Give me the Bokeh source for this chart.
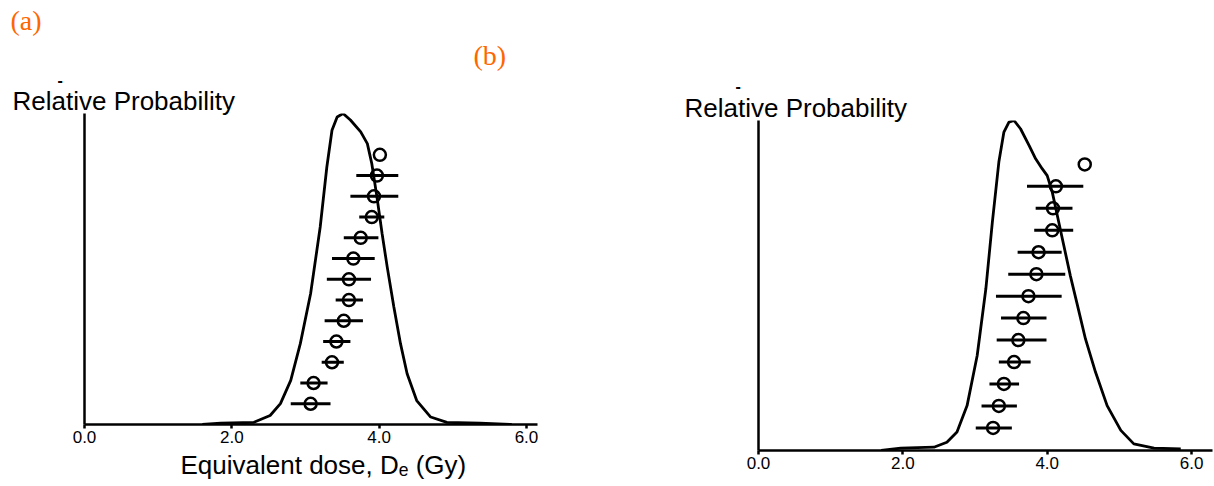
from bokeh.plotting import figure
from bokeh.models import Range1d, LinearAxis, FixedTicker, Title, ColumnDataSource, PrintfTickFormatter
from bokeh.layouts import row
from bokeh.embed import file_html
from bokeh.resources import INLINE

# ---------------- data ----------------
# Panel (a): kernel density curve (relative probability) vs equivalent dose (Gy)
dose_a = [1.60, 1.85, 2.30, 2.52, 2.66, 2.80, 2.93, 3.07, 3.20, 3.29, 3.36, 3.43, 3.51,
          3.61, 3.75, 3.84, 3.90, 3.97, 4.04, 4.11, 4.20, 4.29, 4.38, 4.51, 4.70, 4.92, 5.37, 5.80]
prob_a = [0.000, 0.004, 0.007, 0.029, 0.067, 0.142, 0.260, 0.421, 0.635, 0.828, 0.946, 0.989, 1.000,
          0.979, 0.941, 0.903, 0.839, 0.732, 0.614, 0.506, 0.378, 0.260, 0.163, 0.077, 0.024, 0.007, 0.004, 0.000]
# Panel (a): individual aliquots (top to bottom), De and error limits (Gy)
rank_a = [13, 12, 11, 10, 9, 8, 7, 6, 5, 4, 3, 2, 1]
de_a = [4.01, 3.97, 3.93, 3.90, 3.75, 3.65, 3.59, 3.59, 3.52, 3.42, 3.36, 3.11, 3.07]
lo_a = [4.01, 3.69, 3.61, 3.73, 3.52, 3.36, 3.29, 3.41, 3.26, 3.24, 3.22, 2.93, 2.80]
hi_a = [4.01, 4.26, 4.26, 4.07, 3.99, 3.94, 3.89, 3.78, 3.78, 3.61, 3.52, 3.30, 3.34]

# Panel (b)
dose_b = [1.70, 1.97, 2.43, 2.61, 2.75, 2.89, 3.03, 3.15, 3.24, 3.33, 3.40, 3.47, 3.54, 3.63,
          3.75, 3.84, 3.93, 4.00, 4.07, 4.14, 4.23, 4.32, 4.42, 4.53, 4.67, 4.83, 5.02, 5.20, 5.48, 5.85]
prob_b = [0.000, 0.007, 0.010, 0.025, 0.056, 0.136, 0.288, 0.490, 0.692, 0.874, 0.965, 0.995, 1.000, 0.975,
          0.924, 0.884, 0.854, 0.833, 0.783, 0.712, 0.621, 0.530, 0.439, 0.338, 0.237, 0.136, 0.061, 0.020, 0.007, 0.005]
rank_b = [13, 12, 11, 10, 9, 8, 7, 6, 5, 4, 3, 2, 1]
de_b = [4.52, 4.12, 4.08, 4.07, 3.88, 3.85, 3.74, 3.67, 3.60, 3.54, 3.40, 3.33, 3.25]
lo_b = [4.52, 3.72, 3.84, 3.82, 3.59, 3.46, 3.29, 3.36, 3.30, 3.33, 3.20, 3.09, 3.01]
hi_b = [4.52, 4.50, 4.35, 4.36, 4.20, 4.25, 4.20, 3.99, 3.99, 3.77, 3.61, 3.58, 3.51]

x_ticks = [0, 2, 4, 6]

FONT = "Liberation Sans"
SERIF = "Liberation Serif"
ORANGE = "#FF6600"


def make_panel(width, mb_left, mb_right, mb_top, mb_bottom, xmax, rank_range,
               dose, prob, rank, de, lo, hi):
    p = figure(width=width, height=486, output_backend="svg", toolbar_location=None,
               x_range=Range1d(0, xmax), y_range=Range1d(0, 1.0),
               x_axis_type=None, y_axis_type=None,
               min_border_left=mb_left, min_border_right=mb_right,
               min_border_top=mb_top, min_border_bottom=mb_bottom,
               background_fill_color="white", border_fill_color="white",
               frame_align=False)
    p.outline_line_color = None
    p.grid.visible = False
    p.extra_y_ranges = {"rank": Range1d(*rank_range)}

    xa = LinearAxis(ticker=FixedTicker(ticks=x_ticks), formatter=PrintfTickFormatter(format="%.1f"))
    xa.axis_line_width = 2.5
    xa.major_tick_line_width = 2.5
    xa.major_tick_in = 0
    xa.major_tick_out = 4
    xa.minor_tick_line_color = None
    xa.major_label_standoff = 2
    xa.major_label_text_font = FONT
    xa.major_label_text_font_size = "17px"
    xa.major_label_text_color = "black"
    p.add_layout(xa, "below")

    ya = LinearAxis(ticker=FixedTicker(ticks=[]))
    ya.axis_line_width = 2.5
    ya.major_tick_line_color = None
    ya.minor_tick_line_color = None
    ya.major_label_text_font_size = "0px"
    p.add_layout(ya, "left")

    p.line(dose, prob, line_color="black", line_width=2.8)

    src = ColumnDataSource(dict(de=de, lo=lo, hi=hi, rank=rank))
    p.segment(x0="lo", y0="rank", x1="hi", y1="rank", source=src, y_range_name="rank",
              line_color="black", line_width=3)
    p.scatter(x="de", y="rank", source=src, y_range_name="rank", marker="circle", size=12,
              fill_color=None, line_color="black", line_width=2.5)
    return p


def add_title(p, text, offset, font, size, color, standoff, style="normal", place="above"):
    t = Title(text=text, align="left", offset=offset, text_font=font, text_font_size=size,
              text_color=color, text_font_style=style, standoff=standoff, text_line_height=1.0)
    p.add_layout(t, place)


p1 = make_panel(640, 84, 103, 113, 62, 6.15, (0, 14.99),
                dose_a, prob_a, rank_a, de_a, lo_a, hi_a)
p2 = make_panel(574, 118, 2, 120, 36, 6.29, (-0.03, 15.0),
                dose_b, prob_b, rank_b, de_b, lo_b, hi_b)

# x-axis title of panel (a)
add_title(p1, "Equivalent dose, D\u2091 (Gy)", 96, FONT, "26px", "black", 5, place="below")

# text annotations (stacked above the frames, nearest first)
add_title(p1, "Relative Probability", -72, FONT, "26px", "black", -5)
add_title(p1, "-", -27, FONT, "16px", "black", 2, "bold")
add_title(p1, "(b)", 389, SERIF, "28px", ORANGE, 0)
add_title(p1, "(a)", -74, SERIF, "28px", ORANGE, 4)

add_title(p2, "Relative Probability", -74, FONT, "26px", "black", -4)
add_title(p2, "-", -23, FONT, "16px", "black", 2, "bold")

layout = row(p1, p2)
open("out.html", "w").write(file_html(layout, INLINE))
